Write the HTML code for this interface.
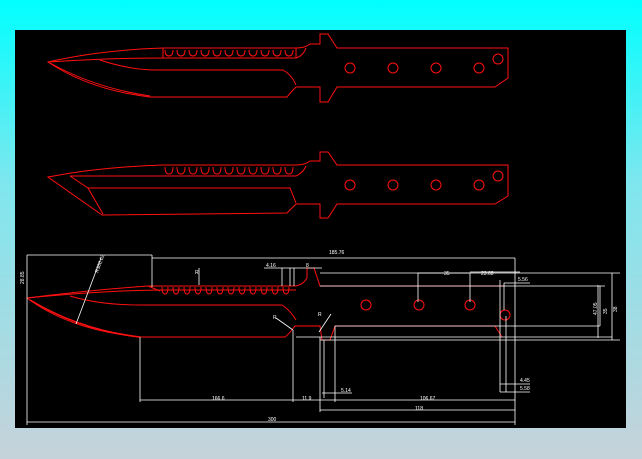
<!DOCTYPE html>
<html><head><style>
html,body{margin:0;padding:0;width:642px;height:459px;overflow:hidden;background:linear-gradient(#00ffff,#7fe6ee 40%,#c6d2da);}
svg{position:absolute;left:0;top:0}
</style></head><body>
<svg width="642" height="459" viewBox="0 0 642 459">
<rect x="15" y="30" width="611" height="398" fill="#000"/>
<g fill="none" stroke="#ff1010" stroke-width="1">
<!-- Knife 1 -->
<path d="M48,62 Q100,50 163,48 L296,48 Q305,48 310,44 L320,44 L320,34 L328,34 L337,48 L508,48 L508,78 L495,87 L337,87 L328,102 L320,102 L320,87 L296,87 Q290,93 287,97 L150,97 Q90,90 48,62 Z"/>
<path d="M50,63 Q95,88 150,96"/>
<path d="M48,62 Q110,58 163,58 L296,58 Q303,56 306,48"/>
<path d="M100,60 Q130,70 157,70 L283,70 Q292,75 296,85"/>
<path d="M163,48 v10 M296,48 v10"/>
<path d="M165,50 q0,6 4,6 q4,0 4,-6 M177,50 q0,6 4,6 q4,0 4,-6 M189,50 q0,6 4,6 q4,0 4,-6 M201,50 q0,6 4,6 q4,0 4,-6 M213,50 q0,6 4,6 q4,0 4,-6 M225,50 q0,6 4,6 q4,0 4,-6 M237,50 q0,6 4,6 q4,0 4,-6 M249,50 q0,6 4,6 q4,0 4,-6 M261,50 q0,6 4,6 q4,0 4,-6 M273,50 q0,6 4,6 q4,0 4,-6 M285,50 q0,6 4,6 q4,0 4,-6"/>
<circle cx="350" cy="68" r="5"/><circle cx="393" cy="68" r="5"/><circle cx="436" cy="68" r="5"/><circle cx="479" cy="68" r="5"/><circle cx="498" cy="59" r="5"/>
<!-- Knife 2 -->
<path d="M48,177 Q100,167 163,165 L296,165 Q305,165 310,161 L320,161 L320,152 L328,152 L337,165 L508,165 L508,196 L495,204 L337,204 L328,218 L320,218 L320,204 L296,204 Q290,210 287,213 L102,215 Z"/>
<path d="M70,176 Q110,176 163,176 L296,176 Q303,173 306,166"/>
<path d="M70,176 L88,188 L290,188 L296,203 M88,188 L103,214"/>
<path d="M165,167 q0,7 4,7 q4,0 4,-7 M177,167 q0,7 4,7 q4,0 4,-7 M189,167 q0,7 4,7 q4,0 4,-7 M201,167 q0,7 4,7 q4,0 4,-7 M213,167 q0,7 4,7 q4,0 4,-7 M225,167 q0,7 4,7 q4,0 4,-7 M237,167 q0,7 4,7 q4,0 4,-7 M249,167 q0,7 4,7 q4,0 4,-7 M261,167 q0,7 4,7 q4,0 4,-7 M273,167 q0,7 4,7 q4,0 4,-7 M285,167 q0,7 4,7 q4,0 4,-7"/>
<circle cx="350" cy="185" r="5"/><circle cx="393" cy="185" r="5"/><circle cx="436" cy="185" r="5"/><circle cx="479" cy="185" r="5"/><circle cx="498" cy="176" r="5"/>
<!-- Knife 3 -->
<path d="M27,298 Q90,290 148,286 L296,286 Q304,284 307,278 L307,268 L314,268 L320,286 L505,286 M495,326 L335,326 L330,340 L322,340 L320,326 L295,326 Q290,333 285,337 L140,337 Q70,330 27,298"/>
<path d="M30,300 Q80,330 140,337" stroke-width="1.6"/>
<path d="M27,298 Q110,290 165,290 L296,290"/>
<path d="M70,296 Q100,305 140,305 L282,305 Q290,310 296,320"/>
<path d="M148,286 L160,291 M495,326 L502,337"/>
<path d="M162,287 q0,7 3,7 q3,0 3,-7 M173,287 q0,7 3,7 q3,0 3,-7 M184,287 q0,7 3,7 q3,0 3,-7 M195,287 q0,7 3,7 q3,0 3,-7 M206,287 q0,7 3,7 q3,0 3,-7 M217,287 q0,7 3,7 q3,0 3,-7 M228,287 q0,7 3,7 q3,0 3,-7 M239,287 q0,7 3,7 q3,0 3,-7 M250,287 q0,7 3,7 q3,0 3,-7 M261,287 q0,7 3,7 q3,0 3,-7 M272,287 q0,7 3,7 q3,0 3,-7 M283,287 q0,7 3,7 q3,0 3,-7"/>
<circle cx="366" cy="305" r="5"/><circle cx="419" cy="305" r="5"/><circle cx="470" cy="305" r="5"/><circle cx="505" cy="315" r="5"/>
</g>
<g stroke="#fff" stroke-width="0.8" fill="none">
<path d="M27,255 H152 M152,255 V287 M152,258 H515 M27,255 V425 M27,422 H515"/>
<path d="M140,337 V402 M140,400 H515 M320,337 V412 M320,410 H515 M515,258 V425"/>
<path d="M293,330 V402 M335,326 V402 M324,340 V398 M500,280 V392 M506,316 V392"/>
<path d="M264,268 H322 M282,268 V286 M290,268 V286 M294,268 V286"/>
<path d="M418,273 H470 M418,273 V302 M470,273 V302 M470,272 H520 M504,283 H530 M504,283 V310"/>
<path d="M320,286 H605 M335,326 H600 M296,337 H612 M320,340 H620 M320,273 H620"/>
<path d="M598,285 V338 M612,273 V340 M600,286 V326"/>
<path d="M500,384 H530 M500,392 H530 M322,393 H352"/>
<path d="M76,324 L101,258 M276,318 L293,330 M319,332 L331,314"/>
<path d="M199,268 V285"/>
</g>
<g fill="#fff" font-family="Liberation Sans, sans-serif" font-size="5">
<text x="329" y="254">185.76</text><text x="266" y="267">4.16</text><text x="306" y="267">8</text>
<text x="444" y="275">35</text><text x="481" y="275">23.68</text><text x="518" y="281">5.56</text>
<text x="212" y="400">166.6</text><text x="302" y="400">11.9</text><text x="420" y="400">106.67</text><text x="415" y="410">118</text><text x="268" y="421">300</text>
<text x="341" y="392">5.14</text><text x="520" y="382">4.45</text><text x="520" y="390">5.58</text>
<text x="195" y="274">R</text><text x="273" y="319">R</text><text x="318" y="316">R</text>
<text transform="translate(24,284) rotate(-90)">28.85</text>
<text transform="translate(98,273) rotate(-70)">R300.02</text>
<text transform="translate(597,315) rotate(-90)">47.05</text>
<text transform="translate(607,314) rotate(-90)">35</text>
<text transform="translate(617,312) rotate(-90)">38</text>
</g>
</svg>
</body></html>
